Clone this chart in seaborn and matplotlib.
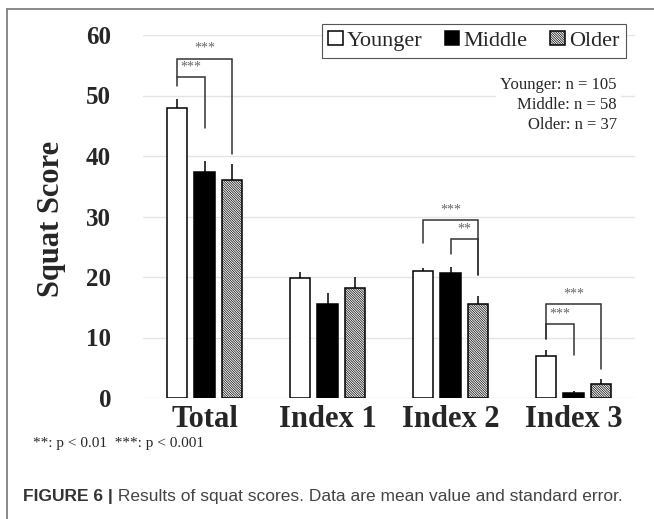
import numpy as np
import pandas as pd
import matplotlib
matplotlib.use("Agg")
import matplotlib.pyplot as plt
from matplotlib.patches import Patch
from matplotlib.lines import Line2D
import seaborn as sns

# values (mean and standard error)
groups = ["Total", "Index 1", "Index 2", "Index 3"]
ages = ["Younger", "Middle", "Older"]
n_per_age = [105, 58, 37]

younger_mean = [47.9, 19.8, 21.0, 6.9]
middle_mean = [37.3, 15.6, 20.6, 0.8]
older_mean = [36.1, 18.1, 15.5, 2.3]

younger_se = [1.6, 1.1, 0.5, 1.0]
middle_se = [1.9, 1.7, 1.0, 0.4]
older_se = [2.6, 1.9, 1.4, 0.9]

# significance brackets: group, left bar, right bar, left leg bottom, top, right leg bottom, label
brackets = [
    ("Total", "Younger", "Older", 51.5, 56.1, 40.4, "***"),
    ("Total", "Younger", "Middle", 53.1, 53.1, 44.6, "***"),
    ("Index 2", "Younger", "Older", 25.6, 29.4, 20.3, "***"),
    ("Index 2", "Middle", "Older", 23.8, 26.2, 20.3, "**"),
    ("Index 3", "Younger", "Older", 9.7, 15.5, 4.8, "***"),
    ("Index 3", "Younger", "Middle", 9.7, 12.2, 7.1, "***"),
]

df = pd.DataFrame({
    "group": groups * len(ages),
    "age": np.repeat(ages, len(groups)),
    "score": younger_mean + middle_mean + older_mean,
    "se": younger_se + middle_se + older_se,
})

sns.set_style("white")
plt.rcParams["font.family"] = ["Liberation Serif", "DejaVu Serif"]
plt.rcParams["hatch.linewidth"] = 0.5

W, H = 654, 519
fig = plt.figure(figsize=(W / 100, H / 100), dpi=100)
ax = fig.add_axes([143 / W, 1 - 398 / H, 492 / W, 363 / H])

sns.barplot(data=df, x="group", y="score", hue="age", order=groups,
            hue_order=ages,
            palette={"Younger": "white", "Middle": "black", "Older": "white"},
            saturation=1, edgecolor="black", linewidth=1.1,
            width=0.673, gap=0.25, errorbar=None, legend=False, ax=ax,
            zorder=2)

hatch = "\\" * 14
for bar in ax.containers[2]:
    bar.set_hatch(hatch)

# bar centers per (group, age) and one-sided error bars
centers = {}
for age, cont in zip(ages, ax.containers):
    sub = df[df.age == age].set_index("group").loc[groups]
    bars = sorted(cont.patches, key=lambda b: b.get_x())
    xs = [b.get_x() + b.get_width() / 2 for b in bars]
    for g, x in zip(groups, xs):
        centers[(g, age)] = x
    ax.errorbar(xs, sub.score, yerr=[np.zeros(len(xs)), sub.se], fmt="none",
                ecolor="black", elinewidth=1.1, capsize=0, zorder=3)

for g, a1, a2, yl, yt, yr, lab in brackets:
    x1, x2 = centers[(g, a1)], centers[(g, a2)]
    ax.plot([x1, x1, x2, x2], [yl, yt, yt, yr], color="#333333", lw=1.1,
            zorder=3, solid_joinstyle="miter")
    ax.text((x1 + x2) / 2, yt + 0.6, lab, ha="center", va="bottom",
            fontsize=10, color="#666666")

ax.set_xlim(-0.5, 3.5)
ax.set_ylim(0, 60)
ax.set_yticks(range(0, 61, 10))
ax.set_xlabel("")
ax.set_ylabel("")
sns.despine(ax=ax, left=True, bottom=True)
ax.grid(axis="y", color="#e4e4e4", lw=1)
ax.set_axisbelow(True)
ax.tick_params(axis="y", length=0, pad=23, labelsize=18)
ax.tick_params(axis="x", length=0, pad=5, labelsize=22)
for t in ax.get_xticklabels() + ax.get_yticklabels():
    t.set_fontweight("bold")

fig.text(52 / W, 1 - 219 / H, "Squat Score", rotation=90, ha="center",
         va="center", fontsize=22, fontweight="bold")

# legend
handles = [Patch(facecolor="white", edgecolor="black", lw=1.1),
           Patch(facecolor="black", edgecolor="black", lw=1.1),
           Patch(facecolor="white", edgecolor="black", lw=1.1, hatch=hatch)]
leg = ax.legend(handles, ages, loc="upper right", ncol=3,
                bbox_to_anchor=(626 / W, 1 - 24 / H),
                bbox_transform=fig.transFigure, borderaxespad=0,
                fontsize=16, handlelength=0.65, handleheight=0.65,
                handletextpad=0.2, columnspacing=1.0, borderpad=0.3,
                fancybox=False, framealpha=1, edgecolor="#555555")
leg.get_frame().set_linewidth(0.8)

n_text = "\n".join(f"{a}: n = {n}" for a, n in zip(ages, n_per_age))
fig.text(617 / W, 1 - 105 / H, n_text, ha="right", va="center",
         multialignment="right", fontsize=12, linespacing=1.35,
         bbox=dict(facecolor="white", edgecolor="none", pad=3))

fig.text(33 / W, 1 - 443 / H, "**: p < 0.01  ***: p < 0.001",
         ha="left", va="center", fontsize=11)

# caption
cap1 = fig.text(23 / W, 1 - 496 / H, "FIGURE 6 |", ha="left", va="center",
                fontsize=12.5, fontweight="bold", color="#333333",
                family="Liberation Sans")
ax.annotate(" Results of squat scores. Data are mean value and standard error.",
            xy=(1, 0.5), xycoords=cap1, ha="left", va="center",
            fontsize=12.5, color="#444444", family="Liberation Sans",
            annotation_clip=False)

# frame lines of the figure panel
fig.add_artist(Line2D([7 / W, 7 / W], [0, 1 - 9 / H], transform=fig.transFigure,
                      color="#808080", lw=1.3))
fig.add_artist(Line2D([7 / W, 1], [1 - 9 / H, 1 - 9 / H], transform=fig.transFigure,
                      color="#808080", lw=1.3))

fig.savefig("out.png", dpi=100)
